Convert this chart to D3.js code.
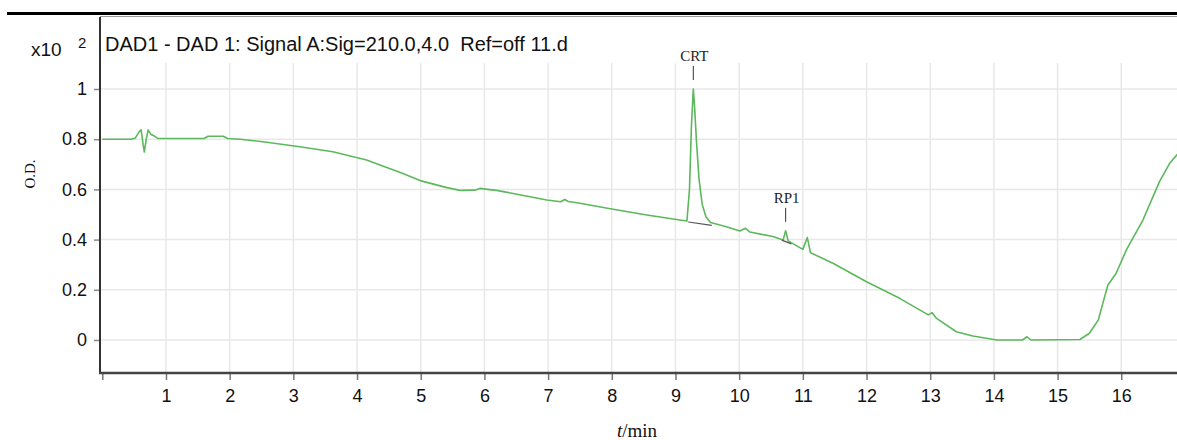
<!DOCTYPE html>
<html><head><meta charset="utf-8">
<script src="https://cdn.jsdelivr.net/npm/d3@7"></script>
<style>body{margin:0;background:#fff}svg{display:block}</style>
</head><body><svg id="c" width="1177" height="440"></svg>
<script>
const times = [0,0.45,0.52,0.58,0.61,0.64,0.66,0.69,0.72,0.76,0.80,0.87,1.60,1.66,1.90,1.97,2.16,2.58,3.10,3.62,4.15,4.36,4.67,4.99,5.41,5.62,5.85,5.93,6.05,6.19,6.45,6.98,7.20,7.26,7.32,7.50,8.02,8.55,9.07,9.18,9.22,9.25,9.28,9.30,9.33,9.37,9.42,9.48,9.55,9.80,10.01,10.10,10.17,10.53,10.69,10.73,10.77,11.00,11.07,11.12,11.48,12.0,12.52,12.97,13.03,13.10,13.41,13.67,13.88,14.05,14.45,14.52,14.58,15.35,15.50,15.64,15.71,15.79,15.92,16.08,16.34,16.60,16.76,16.90];
const od = [0.80,0.80,0.805,0.83,0.837,0.78,0.749,0.80,0.837,0.82,0.815,0.803,0.803,0.812,0.812,0.803,0.80,0.788,0.770,0.750,0.717,0.697,0.668,0.635,0.607,0.596,0.597,0.604,0.600,0.596,0.584,0.558,0.551,0.560,0.552,0.545,0.521,0.498,0.478,0.474,0.60,0.85,1.00,0.93,0.79,0.64,0.54,0.49,0.468,0.451,0.434,0.445,0.430,0.412,0.398,0.435,0.395,0.361,0.408,0.348,0.305,0.232,0.166,0.100,0.109,0.086,0.033,0.016,0.007,0.0,0.0,0.013,0.0,0.002,0.027,0.08,0.146,0.219,0.266,0.359,0.478,0.631,0.704,0.745];
const baselineT = [[9.20,9.57],[10.67,10.82]];
const baselineV = [[0.470,0.457],[0.398,0.383]];
const peakNames = ["CRT","RP1"];
const peakT = [9.28,10.73];
const peakV = [1.00,0.435];
const xTicks = [0,1,2,3,4,5,6,7,8,9,10,11,12,13,14,15,16];
const yTicks = [0,0.2,0.4,0.6,0.8,1];
const yTickLabels = ["0","0.2","0.4","0.6","0.8","1"];
const title = "DAD1 - DAD 1: Signal A:Sig=210.0,4.0  Ref=off 11.d";

const svg = d3.select("#c");
const L = 100, T = 17, B = 373, R = 1177;
const x = d3.scaleLinear().domain([0, 16.875]).range([102.3, 1177]);
const y = d3.scaleLinear().domain([0, 1]).range([340, 89]);
const sans = "'Liberation Sans', Arial, sans-serif";
const serif = "'Liberation Serif', 'Times New Roman', serif";

// top rule
svg.append("line").attr("x1",7).attr("x2",R).attr("y1",13.5).attr("y2",13.5).attr("stroke","#000").attr("stroke-width",3);
svg.append("line").attr("x1",L).attr("x2",R).attr("y1",16.5).attr("y2",16.5).attr("stroke","#999").attr("stroke-width",1);

// grid
svg.append("g").selectAll("line").data(yTicks).join("line")
  .attr("x1",L).attr("x2",R).attr("y1",d=>y(d)).attr("y2",d=>y(d))
  .attr("stroke","#e8e8e8").attr("stroke-width",1.5);
svg.append("g").selectAll("line").data(xTicks.filter(d=>d>0)).join("line")
  .attr("x1",d=>x(d)).attr("x2",d=>x(d)).attr("y1",63).attr("y2",B)
  .attr("stroke","#e8e8e8").attr("stroke-width",1.5);

// axes
const yAxis = d3.axisLeft(y).tickValues(yTicks).tickFormat((d,i)=>yTickLabels[i]).tickSize(6).tickPadding(7);
const gy = svg.append("g").attr("transform",`translate(${L},0)`).call(yAxis);
gy.select(".domain").remove();
gy.selectAll(".tick line").attr("stroke","#888").attr("stroke-width",1.5);
gy.selectAll(".tick text").attr("font-family",sans).attr("font-size",18).attr("fill","#111");

const xAxis = d3.axisBottom(x).tickValues(xTicks).tickFormat(d=>d===0?"":d).tickSize(7).tickPadding(9);
const gx = svg.append("g").attr("transform",`translate(0,${B})`).call(xAxis);
gx.select(".domain").remove();
gx.selectAll(".tick line").attr("stroke","#777").attr("stroke-width",1.5);
gx.selectAll(".tick text").attr("font-family",sans).attr("font-size",18).attr("fill","#111");

svg.append("line").attr("x1",L).attr("x2",L).attr("y1",T).attr("y2",B+1).attr("stroke","#333").attr("stroke-width",2);
svg.append("line").attr("x1",L-1).attr("x2",R).attr("y1",B).attr("y2",B).attr("stroke","#444").attr("stroke-width",2.5);

// trace
const pts = times.map((t,i)=>[t, od[i]]);
const line = d3.line().x(d=>x(d[0])).y(d=>y(d[1]));
svg.append("path").datum(pts).attr("d",line).attr("fill","none")
  .attr("stroke","#5cb85c").attr("stroke-width",1.6).attr("stroke-linejoin","round");

// baselines
baselineT.forEach((bt,i)=>{
  svg.append("line").attr("x1",x(bt[0])).attr("x2",x(bt[1]))
    .attr("y1",y(baselineV[i][0])).attr("y2",y(baselineV[i][1]))
    .attr("stroke","#555").attr("stroke-width",1.2);
});

// peak labels
peakNames.forEach((n,i)=>{
  const px = x(peakT[i]), py = y(peakV[i]);
  svg.append("line").attr("x1",px).attr("x2",px).attr("y1",py-23).attr("y2",py-9)
    .attr("stroke","#333").attr("stroke-width",1);
  svg.append("text").attr("x",px+1).attr("y",py-28).attr("text-anchor","middle")
    .attr("font-family",serif).attr("font-size",15).attr("fill","#222").text(n);
});

// title
svg.append("text").attr("x",105).attr("y",51).attr("font-family",sans).attr("font-size",20)
  .attr("fill","#111").style("white-space","pre").attr("xml:space","preserve").text(title);
// multiplier
svg.append("text").attr("x",31).attr("y",56).attr("font-family",sans).attr("font-size",19).attr("fill","#111").text("x10");
svg.append("text").attr("x",78).attr("y",48).attr("font-family",sans).attr("font-size",15).attr("fill","#111").text("2");

// y label
svg.append("text").attr("transform","translate(35,174) rotate(-90)").attr("text-anchor","middle")
  .attr("font-family",serif).attr("font-size",15).attr("fill","#111").text("O.D.");
// x label
const xl = svg.append("text").attr("x",637).attr("y",437).attr("text-anchor","middle")
  .attr("font-family",serif).attr("font-size",19).attr("fill","#111");
xl.append("tspan").attr("font-style","italic").text("t");
xl.append("tspan").text("/min");
</script></body></html>
